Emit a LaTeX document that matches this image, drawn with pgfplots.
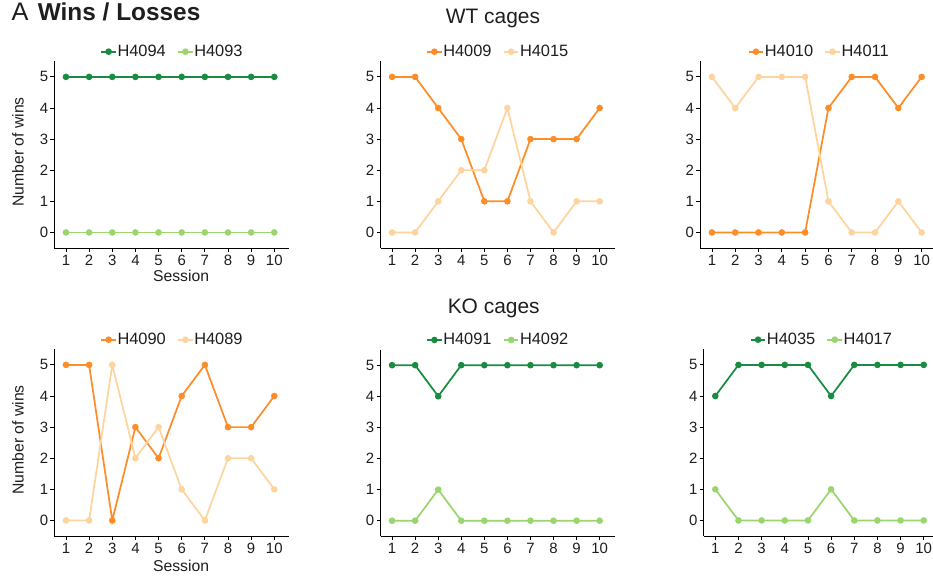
\documentclass[border=0pt]{standalone}
\usepackage{fontspec}
\setmainfont{Liberation Sans}
\usepackage{pgfplots}
\pgfplotsset{compat=1.18}
\definecolor{dgreen}{RGB}{26,140,66}
\definecolor{lgreen}{RGB}{155,213,111}
\definecolor{dorange}{RGB}{253,141,40}
\definecolor{lorange}{RGB}{253,212,158}
\definecolor{txt}{RGB}{30,30,30}
\pgfplotsset{
  panel/.style={
    scale only axis,
    height=140pt,
    xmin=0.5, xmax=10.65, ymin=-0.5, ymax=5.5,
    xtick={1,...,10}, ytick={0,...,5},
    axis lines=left,
    axis line style={-, line width=0.6pt, black},
    tick style={line width=0.6pt, black},
    tick align=outside,
    major tick length=3pt,
    /pgf/number format/assume math mode=true,
    tick label style={font=\fontsize{11.2}{13}\selectfont, text=txt},
    yticklabel style={inner xsep=1.5pt},
    xticklabel style={inner ysep=2pt},
    clip=false,
    legend columns=-1,
    legend style={draw=none, fill=none, at={(0.5,1)}, anchor=south, yshift=2pt,
      inner sep=0pt, font=\fontsize{12.3}{14}\selectfont, text=txt,
      nodes={inner xsep=0.5pt, inner ysep=0pt},
      /tikz/every even column/.append style={column sep=8pt}},
    legend image code/.code={\draw[mark repeat=2,mark phase=2] plot coordinates {(0pt,0pt)(5.5pt,0pt)(11pt,0pt)};},
    every axis plot/.append style={line width=1.3pt, mark=*, mark size=1.8pt, mark options={solid}},
  },
  wlabel/.style={
    ylabel={Number of wins},
    ylabel style={at={(axis description cs:-0.155,0.515)}, anchor=center, font=\fontsize{11.8}{14}\selectfont, text=txt},
  },
}
\begin{document}
\begin{tikzpicture}
\useasboundingbox (0,0) rectangle (699.75pt,432pt);
% title
\node[anchor=base west, inner sep=0pt, text=txt] at (8.5pt,416.5pt) {\fontsize{19}{22}\selectfont A};
\node[anchor=base west, inner sep=0pt, text=txt] at (28.2pt,416.5pt) {\fontsize{18.3}{22}\selectfont\bfseries Wins / Losses};
\node[anchor=base, inner sep=0pt, text=txt] at (369.75pt,414pt) {\fontsize{15.7}{18}\selectfont WT cages};
\node[anchor=base, inner sep=0pt, text=txt] at (370.3pt,197pt) {\fontsize{15.7}{18}\selectfont KO cages};

% P1
\begin{axis}[panel, wlabel, width=176.2pt, at={(40.8pt,246pt)}, anchor=south west,
  xlabel={Session},
  xlabel style={at={(axis description cs:0.539,0)}, anchor=base, yshift=-24.75pt, font=\fontsize{11.8}{14}\selectfont, text=txt}]
\addplot[dgreen] coordinates {(1,5)(2,5)(3,5)(4,5)(5,5)(6,5)(7,5)(8,5)(9,5)(10,5)};
\addplot[lgreen] coordinates {(1,0)(2,0)(3,0)(4,0)(5,0)(6,0)(7,0)(8,0)(9,0)(10,0)};
\legend{H4094,H4093}
\end{axis}

% P2
\begin{axis}[panel, width=175.6pt, at={(285.4pt,246pt)}, anchor=south west]
\addplot[dorange] coordinates {(1,5)(2,5)(3,4)(4,3)(5,1)(6,1)(7,3)(8,3)(9,3)(10,4)};
\addplot[lorange] coordinates {(1,0)(2,0)(3,1)(4,2)(5,2)(6,4)(7,1)(8,0)(9,1)(10,1)};
\legend{H4009,H4015}
\end{axis}

% P3
\begin{axis}[panel, width=177.4pt, at={(525.2pt,246pt)}, anchor=south west]
\addplot[dorange] coordinates {(1,0)(2,0)(3,0)(4,0)(5,0)(6,4)(7,5)(8,5)(9,4)(10,5)};
\addplot[lorange] coordinates {(1,5)(2,4)(3,5)(4,5)(5,5)(6,1)(7,0)(8,0)(9,1)(10,0)};
\legend{H4010,H4011}
\end{axis}

% P4
\begin{axis}[panel, wlabel, width=176.2pt, at={(40.8pt,30pt)}, anchor=south west,
  xlabel={Session},
  xlabel style={at={(axis description cs:0.539,0)}, anchor=base, yshift=-26.25pt, font=\fontsize{11.8}{14}\selectfont, text=txt}]
\addplot[dorange] coordinates {(1,5)(2,5)(3,0)(4,3)(5,2)(6,4)(7,5)(8,3)(9,3)(10,4)};
\addplot[lorange] coordinates {(1,0)(2,0)(3,5)(4,2)(5,3)(6,1)(7,0)(8,2)(9,2)(10,1)};
\legend{H4090,H4089}
\end{axis}

% P5
\begin{axis}[panel, width=175.6pt, at={(285.4pt,29.8pt)}, anchor=south west]
\addplot[dgreen] coordinates {(1,5)(2,5)(3,4)(4,5)(5,5)(6,5)(7,5)(8,5)(9,5)(10,5)};
\addplot[lgreen] coordinates {(1,0)(2,0)(3,1)(4,0)(5,0)(6,0)(7,0)(8,0)(9,0)(10,0)};
\legend{H4091,H4092}
\end{axis}

% P6
\begin{axis}[panel, width=176.3pt, at={(527.8pt,30pt)}, anchor=south west]
\addplot[dgreen] coordinates {(1,4)(2,5)(3,5)(4,5)(5,5)(6,4)(7,5)(8,5)(9,5)(10,5)};
\addplot[lgreen] coordinates {(1,1)(2,0)(3,0)(4,0)(5,0)(6,1)(7,0)(8,0)(9,0)(10,0)};
\legend{H4035,H4017}
\end{axis}
\end{tikzpicture}
\end{document}
